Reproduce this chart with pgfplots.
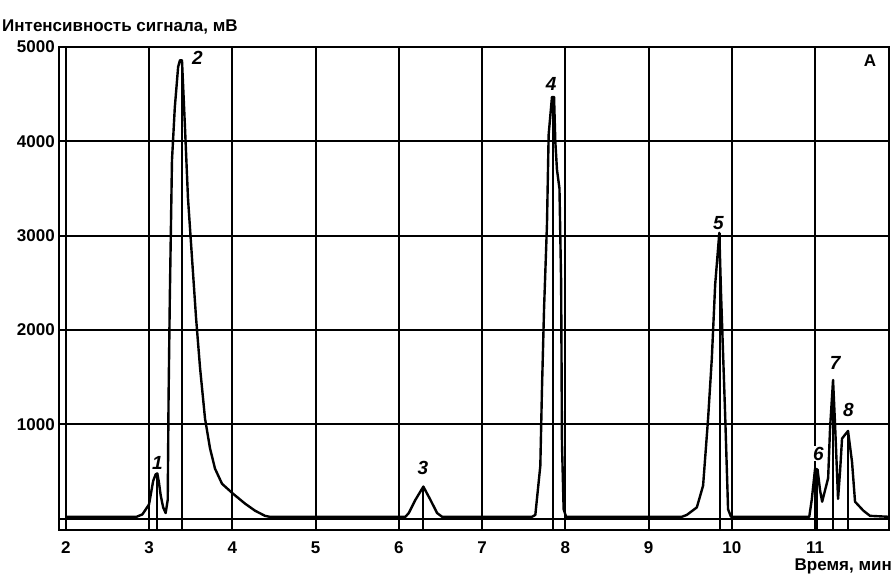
\documentclass[border=0pt]{standalone}
\usepackage{fontspec}
\setmainfont{Liberation Sans}
\usepackage{pgfplots}
\pgfplotsset{compat=1.18}
\begin{document}
\begin{tikzpicture}
\useasboundingbox (0pt,0pt) rectangle (894pt,576pt);
\begin{axis}[at={(59pt,46pt)}, anchor=south west, width=830pt, height=483pt, scale only axis,
 xmin=1.919, xmax=11.888, ymin=-120, ymax=5000,
 xtick={2,3,4,5,6,7,8,9,10,11}, xticklabels={2,3,4,5,6,7,8,9,10,11},
 ytick={0,1000,2000,3000,4000,5000}, yticklabels={,1000,2000,3000,4000,5000},
 major tick length=0pt, grid=major, major grid style={line width=2pt,black},
 axis line style={line width=2.4pt},
 ticklabel style={font=\fontsize{17}{17}\selectfont\bfseries},
 xticklabel style={inner sep=0pt, text height=12pt, text depth=0pt, yshift=-11pt},
 yticklabel style={inner sep=0pt, xshift=-4pt},
 clip=false]
% chromatogram
\addplot[black, line width=2.4pt, line join=round] coordinates {
(2.00,20) (2.85,20) (2.92,45) (3.00,150) (3.05,400) (3.08,470) (3.10,480) (3.12,380) (3.14,250) (3.17,120) (3.20,60)
(3.225,200) (3.235,1280) (3.25,2340) (3.276,3800) (3.31,4360) (3.35,4790) (3.372,4860) (3.396,4860)
(3.432,4150) (3.468,3400) (3.516,2770) (3.565,2130) (3.613,1600) (3.673,1060) (3.733,745) (3.793,530) (3.877,370)
(4.009,265) (4.153,160) (4.273,85) (4.393,30) (4.45,20)
(6.08,20) (6.12,60) (6.20,200) (6.295,340) (6.38,200) (6.46,60) (6.52,20)
(7.60,20) (7.64,40) (7.70,560) (7.72,1380) (7.745,2230) (7.78,3120) (7.80,4070) (7.84,4470) (7.865,4470)
(7.88,4000) (7.90,3700) (7.93,3500) (7.95,2500) (7.96,800) (7.98,100) (8.01,20)
(9.40,20) (9.46,40) (9.58,120) (9.655,350) (9.715,1060) (9.76,1700) (9.80,2480) (9.85,3030) (9.87,2400)
(9.92,1100) (9.955,100) (9.99,20)
(10.93,20) (10.96,200) (11.00,530) (11.03,520) (11.06,300) (11.085,180) (11.157,430) (11.18,960) (11.216,1470)
(11.24,1000) (11.276,210) (11.30,500) (11.324,850) (11.396,930) (11.444,600) (11.48,180) (11.58,85) (11.66,30)
(11.888,20)
};
% retention time markers
\addplot[black, line width=2.2pt] coordinates {(3.10,-120) (3.10,480)};
\addplot[black, line width=2.2pt] coordinates {(3.396,-120) (3.396,4860)};
\addplot[black, line width=2.2pt] coordinates {(6.295,-120) (6.295,340)};
\addplot[black, line width=2.2pt] coordinates {(7.853,-120) (7.853,4470)};
\addplot[black, line width=2.2pt] coordinates {(9.86,-120) (9.86,3030)};
\addplot[black, line width=2.2pt] coordinates {(11.02,-120) (11.02,530)};
\addplot[black, line width=2.2pt] coordinates {(11.216,-120) (11.216,1470)};
\addplot[black, line width=2.2pt] coordinates {(11.396,-120) (11.396,930)};
% peak labels
\begin{scope}[every node/.style={font=\fontsize{19}{19}\selectfont\bfseries\itshape, inner sep=1pt, fill=white}]
\node at (axis cs:3.10,590) {1};
\node at (axis cs:3.58,4880) {2};
\node at (axis cs:6.29,540) {3};
\node at (axis cs:7.83,4610) {4};
\node at (axis cs:9.84,3130) {5};
\node at (axis cs:11.04,690) {6};
\node at (axis cs:11.24,1650) {7};
\node at (axis cs:11.40,1150) {8};
\end{scope}
\node[font=\fontsize{17}{17}\selectfont\bfseries] at (axis cs:11.66,4850) {A};
\end{axis}
\node[anchor=west, font=\fontsize{17}{17}\selectfont\bfseries, inner sep=0pt] at (2pt,549pt) {Интенсивность сигнала, мВ};
\node[anchor=east, font=\fontsize{17}{17}\selectfont\bfseries, inner sep=0pt] at (892pt,10pt) {Время, мин};
\end{tikzpicture}
\end{document}
